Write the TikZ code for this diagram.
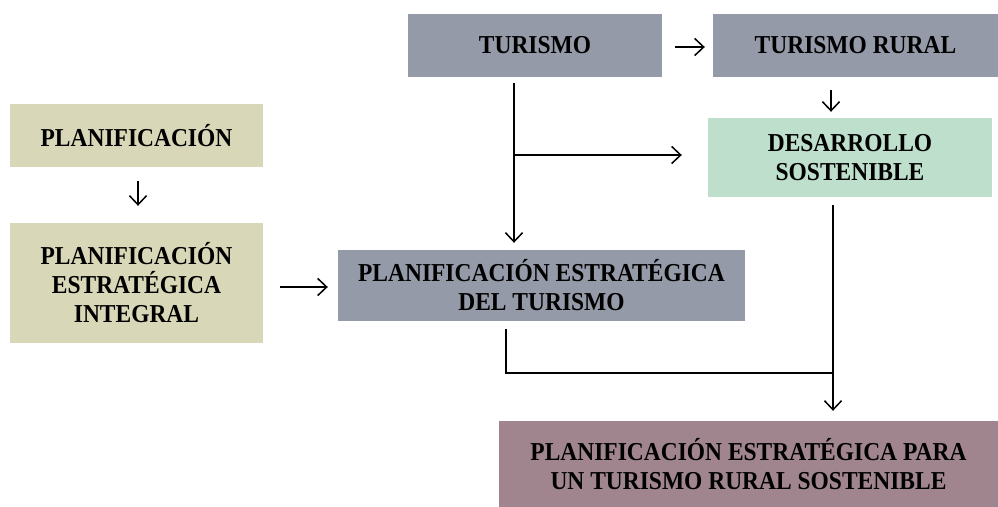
\documentclass[tikz,border=0pt]{standalone}
\usepackage{fontspec}
\setmainfont{Liberation Serif}
\newfontfamily\boxfont[FakeStretch=0.91]{Liberation Serif}
\usetikzlibrary{arrows.meta}
\definecolor{cgray}{RGB}{149,154,168}
\definecolor{cbeige}{RGB}{216,215,184}
\definecolor{cmint}{RGB}{190,223,204}
\definecolor{cmauve}{RGB}{160,133,142}
\tikzset{
  box/.style={rectangle, inner sep=0pt, align=center, font=\boxfont\fontsize{25.8}{29}\selectfont\bfseries, text=black},
  arr/.style={line width=1.5pt, -{Straight Barb[length=9pt,width=17pt,line width=1.5pt]}},
  ln/.style={line width=1.5pt}
}
\begin{document}
\begin{tikzpicture}[x=1pt,y=-1pt]
\useasboundingbox (0,0) rectangle (998,506);
\node[box, fill=cgray, minimum width=254pt, minimum height=63pt] (tur) at (535,45.5) {TURISMO};
\node[box, fill=cgray, minimum width=285pt, minimum height=63pt] (tr) at (855.5,45.5) {TURISMO RURAL};
\node[box, fill=cmint, minimum width=284pt, minimum height=79pt] (des) at (850,157.5) {DESARROLLO\\SOSTENIBLE};
\node[box, fill=cbeige, minimum width=253pt, minimum height=63pt] (plan) at (136.5,135.5) {PLANIFICACIÓN};
\node[box, fill=cbeige, minimum width=253pt, minimum height=120pt] (pei) at (136.5,283) {PLANIFICACIÓN\\ESTRATÉGICA\\INTEGRAL};
\node[box, fill=cgray, minimum width=407pt, minimum height=71pt] (pet) at (541.5,285.5) {PLANIFICACIÓN ESTRATÉGICA\\DEL TURISMO};
\node[box, fill=cmauve, minimum width=499pt, minimum height=86pt] (fin) at (748.5,464) {PLANIFICACIÓN ESTRATÉGICA PARA\\UN TURISMO RURAL SOSTENIBLE};

\coordinate (tb) at (514,155);
\coordinate (pb) at (506,373);
\coordinate (db) at (833,373);

\draw[arr, shorten <=13pt, shorten >=8pt] (tur.east |- 0,47) -- (tr.west |- 0,47);
\draw[arr, shorten <=13pt, shorten >=6pt] (831,0 |- tr.south) -- (831,0 |- des.north);
\draw[arr, shorten <=14pt, shorten >=17pt] (138,0 |- plan.south) -- (138,0 |- pei.north);
\draw[arr, shorten <=17pt, shorten >=10pt] (pei.east |- 0,287) -- (pet.west |- 0,287);
\draw[arr, shorten <=6pt, shorten >=7pt] (514,0 |- tur.south) -- (514,0 |- pet.north);
\draw[arr, shorten >=26pt] (tb) -- (des.west |- tb);
\draw[ln, shorten <=8pt] (506,0 |- pet.south) -- (pb) -- (db);
\draw[arr, shorten <=8pt, shorten >=10pt] (833,0 |- des.south) -- (833,0 |- fin.north);
\end{tikzpicture}
\end{document}
